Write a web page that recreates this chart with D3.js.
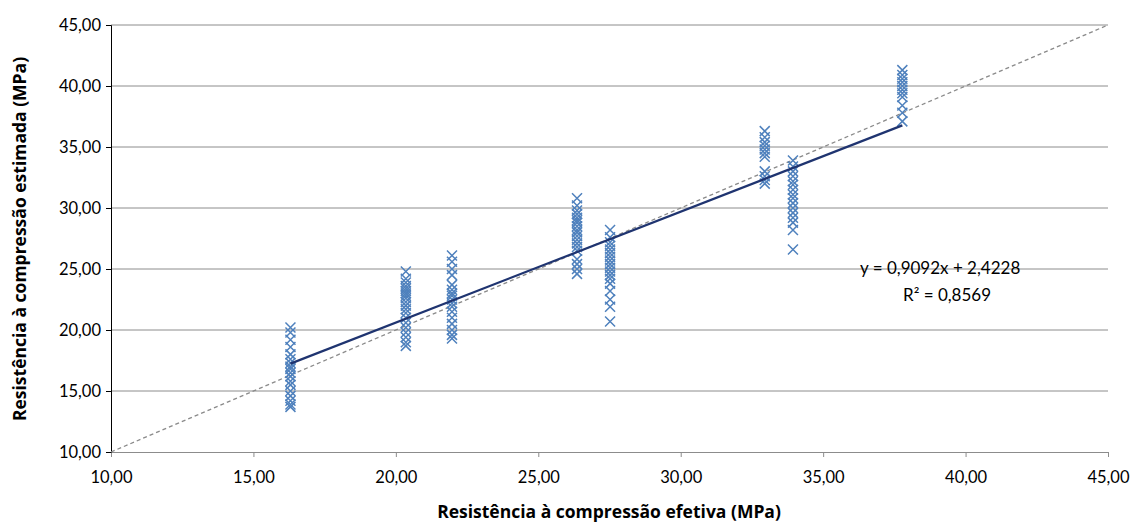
<!DOCTYPE html>
<html><head><meta charset="utf-8">
<script src="https://cdn.jsdelivr.net/npm/d3@7"></script>
<style>body{margin:0;background:#fff}svg{display:block}</style>
</head><body>
<svg id="c" width="1135" height="523"></svg>
<script>
const xTicks = [10,15,20,25,30,35,40,45];
const yTicks = [10,15,20,25,30,35,40,45];
const groupX = [16.3, 20.35, 21.97, 26.36, 27.52, 32.95, 33.94, 37.78];
const g1 = [20.2,19.8,19.2,18.6,18.0,17.6,17.3,17.0,16.8,16.5,16.2,15.8,15.5,15.0,14.6,14.2,13.9,13.7];
const g2 = [24.8,24.2,23.9,23.6,23.4,23.2,23.0,22.8,22.6,22.3,22.0,21.7,21.4,21.0,20.6,20.2,19.8,19.4,19.0,18.7];
const g3 = [26.1,25.6,25.0,24.5,23.7,23.3,23.0,22.8,22.5,22.2,21.9,21.5,21.0,20.5,20.0,19.6,19.3];
const g4 = [30.8,30.2,29.8,29.5,29.2,29.0,28.8,28.5,28.2,28.0,27.7,27.4,27.1,26.8,26.5,25.8,25.4,25.0,24.6];
const g5 = [28.2,27.6,27.2,26.9,26.6,26.3,26.0,25.7,25.4,25.1,24.8,24.5,24.2,23.8,23.2,22.5,21.9,20.7];
const g6 = [36.3,35.8,35.4,35.1,34.8,34.5,34.2,33.0,32.6,32.3,32.0];
const g7 = [33.9,33.4,33.0,32.6,32.2,31.9,31.5,31.1,30.8,30.4,30.0,29.6,29.2,28.8,28.2,26.6];
const g8 = [41.3,40.9,40.6,40.3,40.0,39.7,39.4,39.1,38.4,37.8,37.1];
const groups = [g1,g2,g3,g4,g5,g6,g7,g8];
const slope = 0.9092, intercept = 2.4228;
const trendRange = [16.3, 37.78];
const eqText = "y = 0,9092x + 2,4228";
const r2Text = "R² = 0,8569";

const svg = d3.select("#c");
const L=111, R=1108, T=25, B=452;
const x = d3.scaleLinear().domain([10,45]).range([L,R]);
const y = d3.scaleLinear().domain([10,45]).range([B,T]);
const fmt = d => d3.format(".2f")(d).replace(".", ",");
const font = "Lato, 'Open Sans', sans-serif";
const tfont = "'Open Sans', Lato, sans-serif";

// gridlines
svg.append("g").selectAll("line").data(yTicks.filter(d=>d>10)).join("line")
  .attr("x1",L).attr("x2",R).attr("y1",d=>y(d)).attr("y2",d=>y(d))
  .attr("stroke","#8c8c8c").attr("stroke-width",1);

// x axis
const xa = svg.append("g").attr("transform",`translate(0,${B})`)
  .call(d3.axisBottom(x).tickValues(xTicks).tickFormat(fmt).tickSize(5).tickPadding(14));
xa.select(".domain").attr("stroke","#8c8c8c");
xa.selectAll(".tick line").attr("stroke","#8c8c8c");
xa.selectAll("text").attr("font-family",font).attr("font-size",16.5).attr("fill","#000");

// y axis
const ya = svg.append("g").attr("transform",`translate(${L},0)`)
  .call(d3.axisLeft(y).tickValues(yTicks).tickFormat(fmt).tickSize(5).tickPadding(5));
ya.select(".domain").attr("stroke","#000");
ya.selectAll(".tick line").attr("stroke","#000");
ya.selectAll("text").attr("font-family",font).attr("font-size",16.5).attr("fill","#000");

// y = x dashed
svg.append("line").attr("x1",x(10)).attr("y1",y(10)).attr("x2",x(45)).attr("y2",y(45))
  .attr("stroke","#8a8a8a").attr("stroke-width",1.3).attr("stroke-dasharray","4,3");

// points
const pts = [];
groups.forEach((g,i)=>g.forEach(v=>pts.push([groupX[i],v])));
const s=5;
svg.append("g").selectAll("path").data(pts).join("path")
  .attr("d",d=>{const cx=x(d[0]),cy=y(d[1]);return `M${cx-s},${cy-s}L${cx+s},${cy+s}M${cx-s},${cy+s}L${cx+s},${cy-s}`;})
  .attr("stroke","#4f81bd").attr("stroke-width",1.5).attr("fill","none");

// trendline
svg.append("line")
  .attr("x1",x(trendRange[0])).attr("y1",y(slope*trendRange[0]+intercept))
  .attr("x2",x(trendRange[1])).attr("y2",y(slope*trendRange[1]+intercept))
  .attr("stroke","#1f3470").attr("stroke-width",2.2);

// equation
svg.append("text").attr("x",860).attr("y",274)
  .attr("font-family",font).attr("font-size",17).text(eqText);
svg.append("text").attr("x",903).attr("y",301)
  .attr("font-family",font).attr("font-size",17).text(r2Text);

// axis titles
svg.append("text").attr("x",609).attr("y",518).attr("text-anchor","middle")
  .attr("font-family",tfont).attr("font-size",17.5).attr("font-weight","bold").text("Resistência à compressão efetiva (MPa)");
svg.append("text").attr("transform","translate(26,239) rotate(-90)").attr("text-anchor","middle")
  .attr("font-family",tfont).attr("font-size",17.5).attr("font-weight","bold").text("Resistência à compressão estimada (MPa)");
</script>
</body></html>
